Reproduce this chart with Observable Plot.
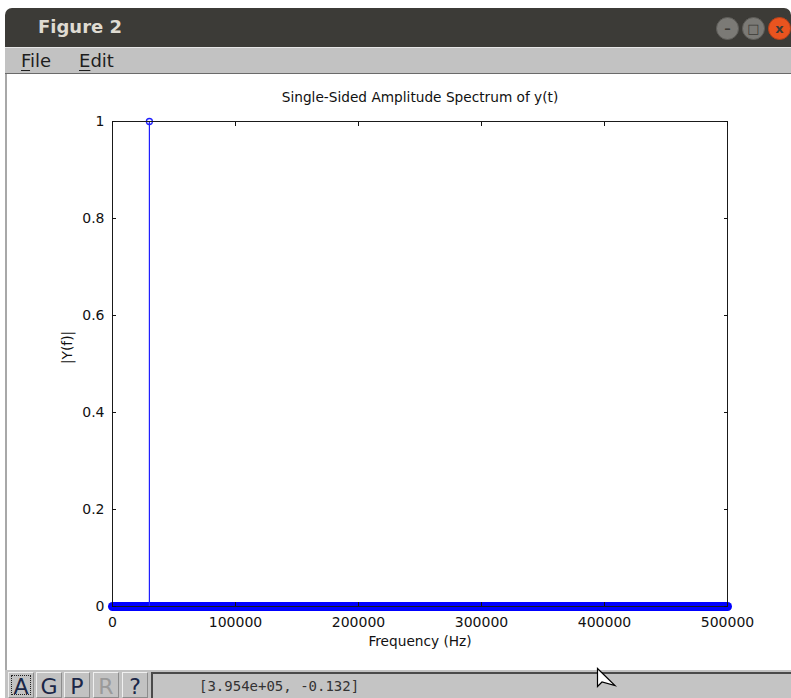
<!DOCTYPE html>
<html><head><meta charset="utf-8">
<script src="https://cdn.jsdelivr.net/npm/d3@7"></script>
<script src="https://cdn.jsdelivr.net/npm/@observablehq/plot@0.6"></script>
<style>
body{margin:0;width:791px;height:698px;overflow:hidden;background:#fff;position:relative;font-family:"DejaVu Sans",sans-serif}
.abs{position:absolute}
#titlebar{left:5px;top:8px;width:786px;height:39px;background:#3c3b37;border-radius:7px 7px 0 0}
#wtitle{left:38px;top:16px;color:#dfdbd2;font:bold 18px "DejaVu Sans";}
.wbtn{width:23px;height:23px;border-radius:50%;top:17px;box-sizing:border-box;color:#3c3b37;font:bold 13px "DejaVu Sans";text-align:center;line-height:21px}
#menubar{left:5px;top:47px;width:786px;height:27px;background:#c2c2c2;border-top:1px solid #e6e6e6;box-sizing:border-box;border-bottom:1px solid #6a6a6a}
.menu{top:50px;font:18px "DejaVu Sans";color:#1e1e1e}
.menu u{text-decoration:underline;text-underline-offset:3px}
#leftborder{left:5px;top:74px;width:2px;height:597px;background:#a8a8a8}
#chart{left:0;top:75px}
#status{left:5px;top:670px;width:786px;height:28px;background:#c2c2c2}
.sbtn{top:672px;width:26px;height:26px;box-sizing:border-box;border:1px solid #8c8c8c;border-top-color:#f0f0f0;border-left-color:#f0f0f0;font:22px "DejaVu Sans";color:#1b2748;text-align:center;line-height:27px;background:#c2c2c2}
#field{left:151px;top:672px;width:640px;height:26px;box-sizing:border-box;border-left:2px solid #4a4a4a;border-top:2px solid #4a4a4a;background:#c4c4c4}
#coords{left:199px;top:678px;font:14px "DejaVu Sans Mono";color:#333}
</style></head><body>
<div id="titlebar" class="abs"></div>
<div id="wtitle" class="abs">Figure 2</div>
<div class="abs wbtn" style="left:716px;background:#7b7a76;border:1px solid #5f5e5a">&#8211;</div>
<div class="abs wbtn" style="left:742px;background:#7b7a76;border:1px solid #5f5e5a">&#9633;</div>
<div class="abs wbtn" style="left:768px;background:#e9541f;border:1px solid #b8411a">x</div>
<div id="menubar" class="abs"></div>
<div class="abs menu" style="left:21px"><u>F</u>ile</div>
<div class="abs menu" style="left:79px"><u>E</u>dit</div>
<div id="chart" class="abs"></div>
<div id="leftborder" class="abs"></div>
<div id="status" class="abs"></div>
<div class="abs sbtn" style="left:8px;outline:1px dotted #222;outline-offset:-4px">A</div>
<div class="abs sbtn" style="left:36px">G</div>
<div class="abs sbtn" style="left:64px">P</div>
<div class="abs sbtn" style="left:93px;color:#9a9a9a">R</div>
<div class="abs sbtn" style="left:122px">?</div>
<div id="field" class="abs"></div>
<div id="coords" class="abs">[3.954e+05, -0.132]</div>
<svg class="abs" style="left:590px;top:664px" width="30" height="30"><path d="M7.5,4.5 L7.5,22.5 L12,18 L25,21.5 Z" fill="#fff" stroke="#000" stroke-width="1.2"/></svg>
<script>
const peakFreq = [30000];
const peakAmp = [1];
const zeroBinFreq = [0, 500000];
const zeroBinAmp = [0, 0];
const xTicks = [0, 100000, 200000, 300000, 400000, 500000];
const yTicks = [0, 0.2, 0.4, 0.6, 0.8, 1];
const titleText = ["Single-Sided Amplitude Spectrum of y(t)"];
const xLabelText = ["Frequency (Hz)"];
const yLabelText = ["|Y(f)|"];

const peaks = peakFreq.map((f, i) => ({f, a: peakAmp[i]}));
const zeros = zeroBinFreq.map((f, i) => ({f, a: zeroBinAmp[i]}));

const plot = Plot.plot({
  width: 791, height: 595,
  marginLeft: 112, marginRight: 64, marginTop: 46, marginBottom: 64,
  x: {domain: [0, 500000]},
  y: {domain: [0, 1]},
  style: {fontFamily: "DejaVu Sans", fontSize: "14px", color: "#111", background: "transparent"},
  marks: [
    Plot.line(zeros, {x: "f", y: "a", stroke: "#0000ff", strokeWidth: 9, strokeLinecap: "round"}),
    Plot.ruleX(peaks, {x: "f", y1: 0, y2: "a", stroke: "#1f1fff", strokeWidth: 1.2}),
    Plot.dot(peaks, {x: "f", y: "a", r: 3, stroke: "#1f1fff", fill: "none", strokeWidth: 1.3}),
    Plot.ruleY([0], {stroke: "#000"}),
    Plot.frame({stroke: "#1a1a1a"}),
    Plot.axisX(xTicks, {anchor: "bottom", tickSize: -4, tickPadding: 15, tickFormat: d => String(d), label: null}),
    Plot.axisX(xTicks, {anchor: "top", tickSize: -4, tickFormat: () => "", label: null}),
    Plot.axisY(yTicks, {anchor: "left", tickSize: -4, tickPadding: 12, tickFormat: d => String(d), label: null}),
    Plot.axisY(yTicks, {anchor: "right", tickSize: -4, tickFormat: () => "", label: null}),
    Plot.text(titleText, {text: d => d, frameAnchor: "top", dy: -29, fontSize: 13.7}),
    Plot.text(xLabelText, {text: d => d, frameAnchor: "bottom", dy: 39, fontSize: 13.7}),
    Plot.text(yLabelText, {text: d => d, frameAnchor: "left", dx: -45, rotate: -90, fontSize: 13.7})
  ]
});
document.getElementById("chart").appendChild(plot);
</script>
</body></html>
